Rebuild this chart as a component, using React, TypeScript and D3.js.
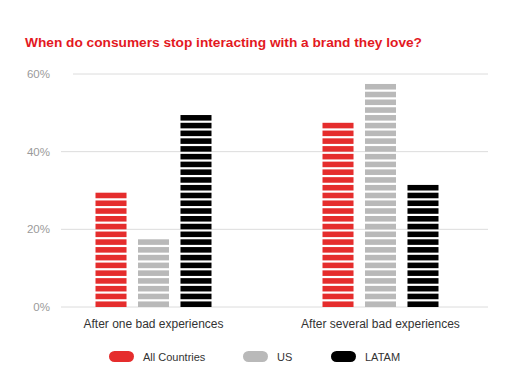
import React from "react";
import * as d3 from "d3";

const categories = ["After one bad experiences", "After several bad experiences"];
const seriesNames = ["All Countries", "US", "LATAM"];
const allCountries = [30, 48];
const us = [18, 58];
const latam = [50, 32];
const yTicks = [0, 20, 40, 60];
const title = "When do consumers stop interacting with a brand they love?";

const colors = ["#e52d2d", "#b9b9b9", "#000000"];
const W = 512;
const H = 373;

export default function App() {
  const seriesValues = [allCountries, us, latam];
  const y = d3.scaleLinear().domain([0, 60]).range([307, 74]);
  const x0 = d3.scaleBand<string>().domain(categories).range([40, 494]).paddingInner(0).paddingOuter(0);
  const groupW = 116;
  const x1 = d3.scaleBand<string>().domain(seriesNames).range([0, groupW]).paddingInner(0.27).paddingOuter(0);
  const unit = 2;
  const gap = 2.2;

  return (
    <svg width={W} height={H} style={{ position: "absolute", left: 0, top: 0, background: "#fff" }}
      fontFamily="'Liberation Sans', Arial, sans-serif">
      <text x={25} y={47} fill="#e3191f" fontSize={13.7} fontWeight="bold">{title}</text>
      {yTicks.map((t) => (
        <g key={t}>
          <line x1={t === 60 ? 73 : 61} x2={488} y1={y(t)} y2={y(t)} stroke="#dcdcdc" strokeWidth={1} />
          <text x={50} y={y(t) + 4} textAnchor="end" fill="#9a9a9a" fontSize={11.5}>{t}%</text>
        </g>
      ))}
      {categories.map((c, ci) => {
        const gx = (x0(c) as number) + x0.bandwidth() / 2 - groupW / 2;
        return (
          <g key={c}>
            {seriesNames.map((s, si) => {
              const v = seriesValues[si][ci];
              const n = Math.round(v / unit);
              const bx = gx + (x1(s) as number);
              return d3.range(n).map((i) => {
                const top = y((i + 1) * unit) + gap;
                const bottom = y(i * unit);
                return (
                  <rect key={s + i} x={bx} y={top} width={x1.bandwidth()} height={bottom - top} fill={colors[si]} />
                );
              });
            })}
            <text x={(x0(c) as number) + x0.bandwidth() / 2} y={328} textAnchor="middle" fill="#333" fontSize={12}>{c}</text>
          </g>
        );
      })}
      {seriesNames.map((s, si) => {
        const lx = [109, 243, 331][si];
        return (
          <g key={s}>
            <rect x={lx} y={351} width={25} height={11} rx={5.5} fill={colors[si]} />
            <text x={lx + 34} y={360.5} fill="#333" fontSize={11}>{s}</text>
          </g>
        );
      })}
    </svg>
  );
}
